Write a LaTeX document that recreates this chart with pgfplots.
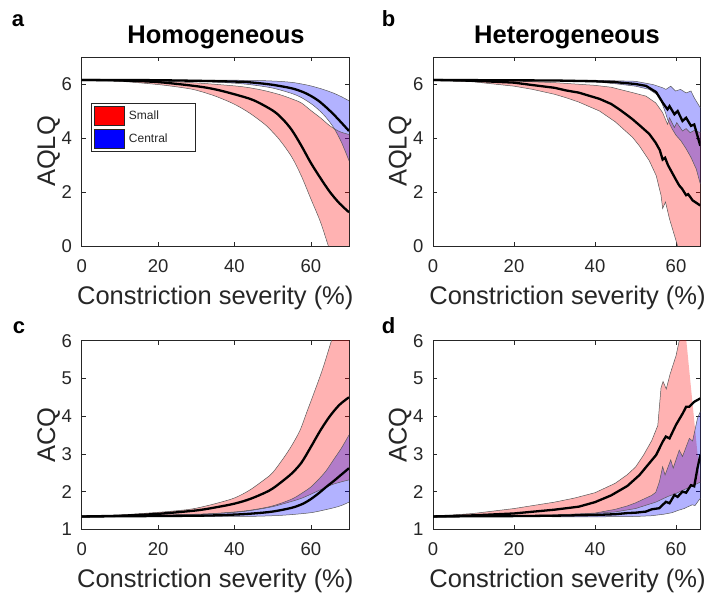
\documentclass[border=0pt]{standalone}
\usepackage{pgfplots}
\pgfplotsset{compat=1.18}
\usepgfplotslibrary{fillbetween}
\usepackage{fontspec}
\setmainfont{Liberation Sans}
\definecolor{axgray}{gray}{0.15}
\pgfplotsset{
  panel/.style={scale only axis, width=267.3pt, height=189pt, anchor=south west,
    set layers, clip=true,
    axis line style={axgray, line width=0.6pt},
    tick style={axgray, line width=0.6pt},
    tick align=inside, major tick length=4pt,
    xtick={0,20,40,60},
    /pgf/number format/assume math mode=true,
    ticklabel style={font=\fontsize{18.5}{20}\selectfont, text=axgray},
    xticklabel style={anchor=base, yshift=-26.5pt},
    yticklabel style={anchor=east, inner sep=0pt, xshift=-9.5pt},
  },
  edge/.style={black!65, line width=0.5pt},
  mean/.style={black, line width=2.3pt},
  rfill/.style={fill=red, fill opacity=0.3, draw=none},
  bfill/.style={fill=blue, fill opacity=0.3, draw=none},
}
\begin{document}
\begin{tikzpicture}
\path (0,0) rectangle (712pt,594pt);
% ---------------- a ----------------
\begin{axis}[panel, at={(81.7pt,348pt)}, xmin=0, xmax=70, ymin=0, ymax=7, ytick={0,2,4,6},
  legend image code/.code={\draw[#1] (0pt,-9.5pt) rectangle (30pt,9.5pt);},
  legend style={at={(rel axis cs:0.035,0.757)}, anchor=north west, draw=axgray, line width=0.6pt,
    fill=white, font=\fontsize{12}{14}\selectfont, inner xsep=2.5pt, inner ysep=3pt, row sep=3pt,
    nodes={inner sep=1.5pt, text=black!85},
    /tikz/every odd column/.append style={column sep=3pt}},
  legend cell align=left]
\addlegendimage{fill=red, draw=axgray, line width=0.6pt}
\addlegendentry{\makebox[62pt][l]{Small}}
\addlegendimage{fill=blue, draw=axgray, line width=0.6pt}
\addlegendentry{\makebox[62pt][l]{Central}}
\addplot[edge, smooth, name path=aru] coordinates {(0,6.15)(10,6.14)(20,6.11)(30,6.04)(40,5.93)(44,5.86)(48,5.75)(52,5.6)(55,5.45)(57.5,5.3)(60,5.02)(62.5,4.75)(65,4.45)(67.5,4.24)(70,4.13)};
\addplot[edge, smooth, name path=arl] coordinates {(0,6.15)(10,6.1)(20,5.98)(26.6,5.86)(30,5.77)(35,5.55)(40,5.25)(44,4.92)(48,4.5)(50,4.22)(52,3.9)(55,3.3)(57.5,2.6)(60,1.75)(62.5,0.9)(64.6,0)(67,-1.0)(70,-2.1)};
\addplot[edge, smooth, name path=abu] coordinates {(0,6.15)(40,6.14)(50,6.11)(55,6.06)(58,5.99)(60,5.93)(63,5.81)(66,5.66)(68,5.53)(70,5.38)};
\addplot[edge, smooth, name path=abl] coordinates {(0,6.15)(20,6.13)(30,6.1)(40,6.03)(45,5.96)(50,5.85)(55,5.65)(57.5,5.5)(60,5.28)(62,5.05)(64,4.76)(66,4.38)(68,3.85)(70,3.16)};
\addplot[rfill] fill between[of=aru and arl];
\addplot[bfill] fill between[of=abu and abl];
\addplot[mean, smooth] coordinates {(0,6.15)(10,6.13)(20,6.07)(30,5.92)(35,5.8)(40,5.62)(45,5.4)(50,5.02)(52.5,4.72)(55,4.3)(57.5,3.72)(60,3.08)(62.5,2.52)(65,2.0)(67.5,1.58)(70,1.25)};
\addplot[mean, smooth] coordinates {(0,6.15)(20,6.14)(40,6.09)(45,6.05)(50,5.97)(55,5.84)(58,5.7)(60,5.56)(62,5.38)(64,5.14)(66,4.87)(68,4.57)(70,4.26)};
\end{axis}
% ---------------- b ----------------
\begin{axis}[panel, at={(433pt,348pt)}, xmin=0, xmax=66, ymin=0, ymax=7, ytick={0,2,4,6}]
\addplot[edge, name path=bru] coordinates {(0,6.15)(10,6.14)(20,6.11)(30,6.05)(36,5.99)(40,5.95)(44,5.88)(49.3,5.68)(52.6,5.55)(55,5.3)(56.7,4.94)(57.9,4.51)(58.4,4.75)(59.6,4.39)(60.2,4.57)(61.6,4.26)(62.5,4.35)(63.5,4.2)(64.5,4.28)(66,4.2)};
\addplot[edge, name path=brl] coordinates {(0,6.15)(10,6.08)(20,5.92)(24.6,5.8)(30,5.62)(32.9,5.49)(36,5.33)(41.1,5.0)(45,4.6)(49.3,4.02)(51,3.7)(53.4,3.16)(55.1,2.61)(56.3,1.88)(56.7,1.39)(57.4,1.63)(58.4,1.0)(59.5,0.45)(60.4,0)(62,-0.5)(64,-1.0)(66,-1.5)};
\addplot[edge, name path=bbu] coordinates {(0,6.15)(40,6.14)(50,6.1)(54.3,5.98)(56.7,5.86)(57.5,5.8)(58.7,5.92)(59.9,5.74)(61.1,5.8)(62.5,5.67)(63.7,5.74)(64.5,5.49)(66,5.12)};
\addplot[edge, name path=bbl] coordinates {(0,6.15)(30,6.12)(40,6.08)(45,6.01)(50,5.92)(53.4,5.8)(55.9,5.55)(57.3,4.98)(58,4.65)(59,4.35)(60,4.1)(61.2,3.9)(62.5,3.6)(63.7,3.28)(65,2.85)(66,2.3)};
\addplot[rfill] fill between[of=bru and brl];
\addplot[bfill] fill between[of=bbu and bbl];
\addplot[mean] coordinates {(0,6.15)(10,6.12)(20,6.05)(24.6,5.96)(30,5.86)(32.9,5.76)(36,5.68)(41.1,5.45)(44,5.26)(46,5.06)(48,4.84)(49.3,4.69)(51,4.47)(53.4,4.15)(55,3.82)(56,3.55)(56.7,3.2)(57.3,3.27)(58,3.0)(59.2,2.67)(60,2.45)(60.8,2.24)(61.5,2.12)(62.5,1.88)(63,1.92)(64.1,1.69)(65,1.6)(66,1.5)};
\addplot[mean] coordinates {(0,6.15)(30,6.13)(40,6.1)(45,6.07)(50,6.0)(52.6,5.93)(55.1,5.7)(56.7,5.31)(57.9,5.06)(58.4,5.18)(59.6,4.88)(60.4,5.0)(61.6,4.63)(62.5,4.75)(63.7,4.45)(64.5,4.5)(65.3,4.08)(66,3.71)};
\end{axis}
% ---------------- c ----------------
\begin{axis}[panel, at={(81.7pt,64.7pt)}, height=188.6pt, xmin=0, xmax=70, ymin=1, ymax=6, ytick={1,2,3,4,5,6}]
\addplot[edge, smooth, name path=cru] coordinates {(0,1.34)(10,1.38)(20,1.45)(26.6,1.51)(30,1.56)(35,1.68)(40,1.83)(44,2.04)(48,2.33)(50,2.5)(52.8,2.88)(55,3.22)(57.2,3.63)(59,4.12)(61,4.66)(63.2,5.28)(65.4,6.0)(67,6.5)(70,7.3)};
\addplot[edge, smooth, name path=crl] coordinates {(0,1.34)(20,1.36)(30,1.39)(40,1.45)(45,1.51)(50,1.6)(55,1.74)(57.5,1.82)(60,1.93)(63,2.07)(66,2.2)(70,2.31)};
\addplot[edge, smooth, name path=cbu] coordinates {(0,1.34)(30,1.4)(40,1.46)(45,1.52)(50,1.62)(55,1.8)(58,1.98)(60,2.12)(62,2.32)(64,2.55)(66,2.85)(68,3.15)(70,3.5)};
\addplot[edge, smooth, name path=cbl] coordinates {(0,1.34)(40,1.34)(50,1.36)(55,1.39)(60,1.44)(63,1.5)(66,1.57)(68,1.63)(70,1.72)};
\addplot[rfill] fill between[of=cru and crl];
\addplot[bfill] fill between[of=cbu and cbl];
\addplot[mean, smooth] coordinates {(0,1.34)(10,1.36)(20,1.41)(30,1.5)(35,1.58)(40,1.68)(44,1.8)(48,1.97)(50,2.08)(52.5,2.27)(55,2.48)(57.5,2.76)(60,3.18)(62.5,3.62)(65,4.0)(67.5,4.3)(70,4.5)};
\addplot[mean, smooth] coordinates {(0,1.34)(30,1.36)(40,1.39)(45,1.42)(50,1.47)(55,1.57)(58,1.68)(60,1.8)(62,1.95)(64,2.12)(66,2.28)(68,2.45)(70,2.62)};
\end{axis}
% ---------------- d ----------------
\begin{axis}[panel, at={(433pt,64.7pt)}, height=188.6pt, xmin=0, xmax=66, ymin=1, ymax=6, ytick={1,2,3,4,5,6}]
\addplot[edge, name path=dru] coordinates {(0,1.34)(10,1.42)(20,1.55)(30,1.72)(35,1.83)(40,1.97)(45,2.22)(48,2.45)(50,2.65)(52,2.97)(54,3.35)(55.5,3.75)(56.3,4.75)(56.8,4.92)(57.6,4.72)(58.5,5.1)(60,5.6)(61,6.1)(62,6.6)};
\addplot[edge, name path=drl] coordinates {(0,1.34)(20,1.36)(30,1.38)(40,1.42)(45,1.46)(50,1.55)(55,1.72)(58,1.87)(60,1.95)(62,2.05)(64,2.15)(66,2.25)};
\addplot[edge, name path=dbu] coordinates {(0,1.34)(20,1.36)(30,1.38)(40,1.43)(45,1.53)(48,1.62)(50,1.7)(52,1.8)(54,1.9)(55,1.98)(55.9,2.26)(56.7,2.66)(57.3,2.44)(58.7,2.84)(59.3,2.62)(60.8,3.1)(61.6,2.93)(63.3,3.41)(64.1,3.34)(65.3,3.94)(66,4.12)};
\addplot[edge, name path=dbl] coordinates {(0,1.34)(40,1.33)(50,1.34)(54,1.36)(57,1.4)(59,1.44)(60.5,1.5)(62,1.55)(63,1.6)(64,1.65)(64.7,1.63)(65.5,1.75)(66,1.82)};
\addplot[rfill] fill between[of=dru and drl];
\addplot[bfill] fill between[of=dbu and dbl];
\addplot[mean] coordinates {(0,1.34)(10,1.37)(20,1.42)(30,1.52)(36,1.6)(40,1.72)(44,1.9)(48,2.15)(51,2.44)(53,2.7)(55.1,2.97)(56.7,3.32)(57.5,3.46)(58.4,3.41)(60,3.77)(61.7,4.08)(62.5,4.25)(63.3,4.25)(64.5,4.38)(66,4.47)};
\addplot[mean] coordinates {(0,1.34)(20,1.35)(30,1.36)(40,1.38)(45,1.4)(48,1.43)(50,1.44)(52.6,1.47)(54,1.53)(55.9,1.56)(57.5,1.73)(58.4,1.69)(59.6,1.91)(60.4,1.86)(61.6,2.0)(62.5,1.97)(63.7,2.17)(64.5,2.14)(65.3,2.62)(66,2.97)};
\end{axis}
% ---------------- text ----------------
\begin{scope}[every node/.style={inner sep=0pt}]
\node[anchor=base west, font=\bfseries\fontsize{22}{24}\selectfont] at (11.7pt,567.3pt) {a};
\node[anchor=base west, font=\bfseries\fontsize{22}{24}\selectfont] at (381.7pt,567.3pt) {b};
\node[anchor=base west, font=\bfseries\fontsize{22}{24}\selectfont] at (12.7pt,260.7pt) {c};
\node[anchor=base west, font=\bfseries\fontsize{22}{24}\selectfont] at (381.7pt,260.7pt) {d};
\node[anchor=base, font=\bfseries\fontsize{25.5}{28}\selectfont] at (216pt,550pt) {Homogeneous};
\node[anchor=base, font=\bfseries\fontsize{25.5}{28}\selectfont] at (567pt,550pt) {Heterogeneous};
\node[anchor=base, font=\fontsize{25.5}{28}\selectfont, text=axgray] at (215.3pt,289.5pt) {Constriction severity (\%)};
\node[anchor=base, font=\fontsize{25.5}{28}\selectfont, text=axgray] at (567.5pt,289.5pt) {Constriction severity (\%)};
\node[anchor=base, font=\fontsize{25.5}{28}\selectfont, text=axgray] at (215.3pt,6.2pt) {Constriction severity (\%)};
\node[anchor=base, font=\fontsize{25.5}{28}\selectfont, text=axgray] at (567.5pt,6.2pt) {Constriction severity (\%)};
\node[anchor=base, rotate=90, font=\fontsize{25.5}{28}\selectfont, text=axgray] at (55pt,442.5pt) {AQLQ};
\node[anchor=base, rotate=90, font=\fontsize{25.5}{28}\selectfont, text=axgray] at (406.5pt,442.5pt) {AQLQ};
\node[anchor=base, rotate=90, font=\fontsize{25.5}{28}\selectfont, text=axgray] at (55pt,159pt) {ACQ};
\node[anchor=base, rotate=90, font=\fontsize{25.5}{28}\selectfont, text=axgray] at (406.5pt,159pt) {ACQ};
\end{scope}
\end{tikzpicture}
\end{document}
